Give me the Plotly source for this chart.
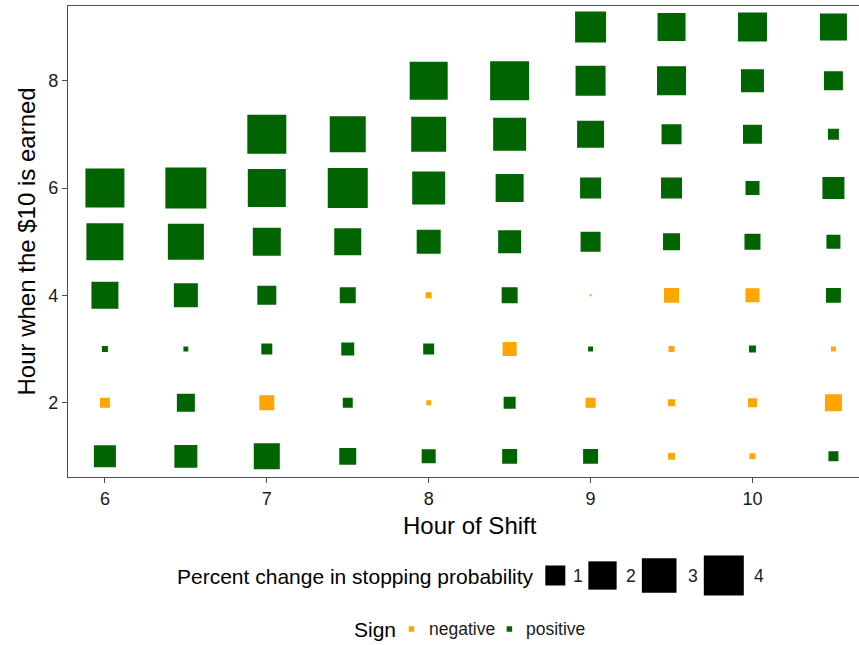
import numpy as np
import plotly.graph_objects as go

# ---------------- data ----------------
shift_hour = [6, 6.5, 7, 7.5, 8, 8.5, 9, 9.5, 10, 10.5]
# percent change in stopping probability, listed for earned hour 1, 2, 3, ...
pct_6_0 = [1.21, -0.25, 0.09, 1.82, 3.42, 3.80]
pct_6_5 = [1.32, 0.81, 0.06, 1.44, 3.24, 4.20]
pct_7_0 = [1.69, -0.56, 0.30, 0.90, 1.96, 3.61, 3.80]
pct_7_5 = [0.72, 0.25, 0.42, 0.64, 1.82, 4.00, 3.24]
pct_8_0 = [0.49, -0.06, 0.30, -0.09, 1.44, 2.72, 3.06, 3.61]
pct_8_5 = [0.56, 0.36, -0.49, 0.64, 1.32, 1.96, 2.72, 3.80]
pct_9_0 = [0.56, -0.25, 0.06, -0.01, 1.00, 1.10, 1.82, 2.25, 2.40]
pct_9_5 = [-0.12, -0.12, -0.09, -0.56, 0.72, 1.10, 1.00, 2.10, 1.96]
pct_10_0 = [-0.09, -0.20, 0.12, -0.49, 0.64, 0.49, 0.90, 1.32, 2.10]
pct_10_5 = [0.25, -0.72, -0.06, 0.56, 0.49, 1.21, 0.30, 0.90, 1.82]
size_breaks = [1, 2, 3, 4]
sign_labels = ["negative", "positive"]
sign_colors = ["#FFA500", "#006400"]

columns = [pct_6_0, pct_6_5, pct_7_0, pct_7_5, pct_8_0,
           pct_8_5, pct_9_0, pct_9_5, pct_10_0, pct_10_5]

xs, ys, vs = [], [], []
for sh, col in zip(shift_hour, columns):
    for i, v in enumerate(col):
        xs.append(sh)
        ys.append(i + 1)
        vs.append(v)
xs = np.array(xs); ys = np.array(ys); vs = np.array(vs)


def size_px(v):
    return 20.0 * np.sqrt(np.abs(v))


W, H = 859, 645
FONT = "Liberation Sans, Arial, sans-serif"


def px(x):
    return x / W


def py(y):
    return 1 - y / H


fig = go.Figure()
for is_pos, name, color in [(False, sign_labels[0], sign_colors[0]),
                            (True, sign_labels[1], sign_colors[1])]:
    m = (vs > 0) if is_pos else (vs < 0)
    fig.add_trace(go.Scatter(
        x=xs[m], y=ys[m], mode="markers", name=name, showlegend=False,
        marker=dict(symbol="square", size=size_px(vs[m]), color=color,
                    opacity=1, line=dict(width=0)),
    ))

axis_col = "#4d4d4d"
fig.update_layout(
    width=W, height=H, autosize=False,
    margin=dict(l=0, r=0, t=0, b=0),
    paper_bgcolor="white", plot_bgcolor="white",
    font=dict(family=FONT, color="#1a1a1a"),
    xaxis=dict(domain=[px(68), 1.0], range=[5.772, 10.658],
               tickvals=[6, 7, 8, 9, 10], ticks="outside", ticklen=5,
               tickwidth=1.2, tickcolor=axis_col, showline=True,
               linecolor=axis_col, linewidth=1.2, mirror=True,
               showgrid=False, zeroline=False,
               tickfont=dict(size=18, family=FONT, color="#1a1a1a")),
    yaxis=dict(domain=[py(477.3), py(5.7)], range=[0.610, 9.397],
               tickvals=[2, 4, 6, 8], ticks="outside", ticklen=5,
               tickwidth=1.2, tickcolor=axis_col, showline=True,
               linecolor=axis_col, linewidth=1.2, mirror=False,
               showgrid=False, zeroline=False,
               tickfont=dict(size=18, family=FONT, color="#1a1a1a")),
)

annotations = [
    dict(text="Hour of Shift", x=px(469.5), y=py(525.5), xref="paper",
         yref="paper", xanchor="center", yanchor="middle", showarrow=False,
         font=dict(size=24, family=FONT, color="black")),
    dict(text="Hour when the $10 is earned", x=px(26), y=py(241.5),
         xref="paper", yref="paper", xanchor="center", yanchor="middle",
         textangle=-90, showarrow=False,
         font=dict(size=24, family=FONT, color="black")),
    dict(text="Percent change in stopping probability", x=px(175), y=py(576),
         xref="paper", yref="paper", xanchor="left", yanchor="middle",
         showarrow=False, font=dict(size=21, family=FONT, color="black")),
    dict(text="Sign", x=px(352), y=py(629), xref="paper", yref="paper",
         xanchor="left", yanchor="middle", showarrow=False,
         font=dict(size=21, family=FONT, color="black")),
]

shapes = []
key_cx = [555.3, 602.5, 659.2, 723.8]
label_x = [571, 624.4, 685.7, 751.7]
for b, cx, lx in zip(size_breaks, key_cx, label_x):
    s = float(size_px(b))
    shapes.append(dict(type="rect", xref="paper", yref="paper",
                       xsizemode="pixel", ysizemode="pixel",
                       xanchor=px(cx), yanchor=py(575.5),
                       x0=-s / 2, x1=s / 2, y0=-s / 2, y1=s / 2,
                       fillcolor="black", line=dict(width=0)))
    annotations.append(dict(text=str(b), x=px(lx), y=py(576), xref="paper",
                            yref="paper", xanchor="left", yanchor="middle",
                            showarrow=False,
                            font=dict(size=17.5, family=FONT, color="#1a1a1a")))

sign_cx = [411.4, 509.4]
sign_lx = [427, 523.6]
for lab, col, cx, lx in zip(sign_labels, sign_colors, sign_cx, sign_lx):
    s = 5.5
    shapes.append(dict(type="rect", xref="paper", yref="paper",
                       xsizemode="pixel", ysizemode="pixel",
                       xanchor=px(cx), yanchor=py(629),
                       x0=-s / 2, x1=s / 2, y0=-s / 2, y1=s / 2,
                       fillcolor=col, line=dict(width=0)))
    annotations.append(dict(text=lab, x=px(lx), y=py(629), xref="paper",
                            yref="paper", xanchor="left", yanchor="middle",
                            showarrow=False,
                            font=dict(size=17.5, family=FONT, color="#1a1a1a")))

fig.update_layout(annotations=annotations, shapes=shapes)
fig.write_html("out.html")
